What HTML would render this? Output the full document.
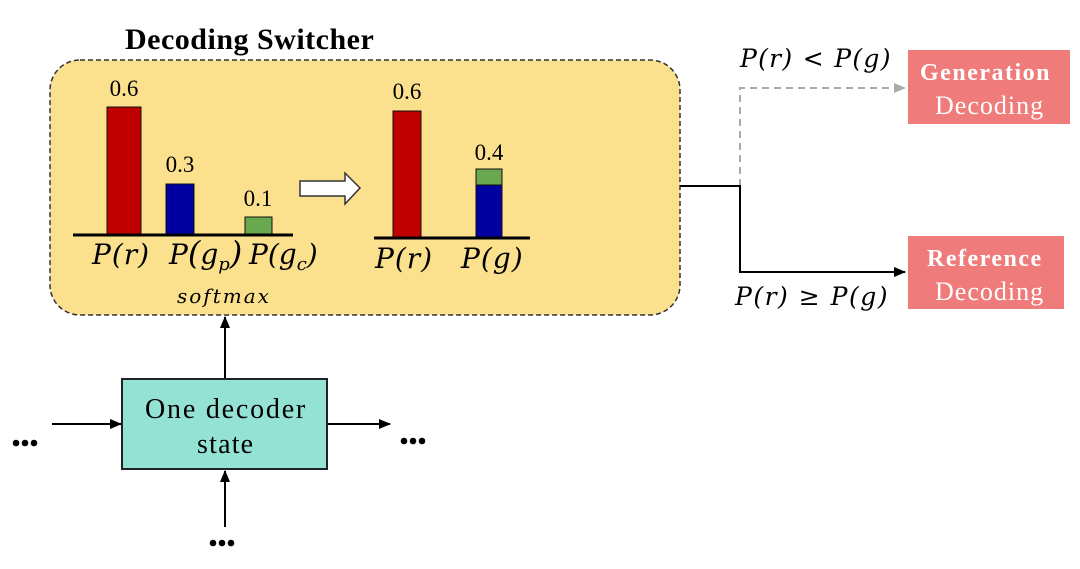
<!DOCTYPE html>
<html><head><meta charset="utf-8"><style>
body{margin:0;background:#fff;width:1080px;height:564px;overflow:hidden}
text{font-family:"Liberation Serif",serif}
.m{font-family:"DejaVu Serif","Liberation Serif",serif;font-style:italic}
</style></head><body>
<svg width="1080" height="564" viewBox="0 0 1080 564">
<defs>
<marker id="a" markerWidth="12" markerHeight="10" refX="11" refY="5" orient="auto" markerUnits="userSpaceOnUse"><path d="M0,0L12,5L0,10z" fill="#000"/></marker>
<marker id="g" markerWidth="12" markerHeight="10" refX="11" refY="5" orient="auto" markerUnits="userSpaceOnUse"><path d="M0,0L12,5L0,10z" fill="#aaa"/></marker>
</defs>
<text x="125" y="49" font-size="30" font-weight="bold" letter-spacing="0.5">Decoding Switcher</text>
<rect x="50" y="60" width="630" height="255" rx="30" fill="#fbe08e" stroke="#333" stroke-width="1.5" stroke-dasharray="5,3"/>
<rect x="107" y="107" width="34" height="128" fill="#c00000" stroke="#111"/>
<rect x="166" y="184" width="28" height="51" fill="#0000a0" stroke="#111"/>
<rect x="245" y="217" width="27" height="18" fill="#6aa84f" stroke="#111"/>
<line x1="73" y1="235" x2="293" y2="235" stroke="#000" stroke-width="3"/>
<text x="124" y="96" font-size="23" text-anchor="middle">0.6</text>
<text x="180" y="172" font-size="23" text-anchor="middle">0.3</text>
<text x="258" y="206" font-size="23" text-anchor="middle">0.1</text>
<text class="m" x="92" y="264" font-size="28" letter-spacing="1">P(r)</text>
<text class="m" x="169" y="264" font-size="28">P<tspan font-size="32">(</tspan>g<tspan font-size="18" dy="6">p</tspan><tspan dy="-6" font-size="32">)</tspan></text>
<text class="m" x="249" y="264" font-size="28">P(g<tspan font-size="18" dy="6">c</tspan><tspan dy="-6">)</tspan></text>
<text class="m" x="177" y="303" font-size="20" letter-spacing="2">softmax</text>
<path d="M300,181 H345 V173 L360,188 L345,204 V196 H300 Z" fill="#fff" stroke="#333" stroke-width="1.5"/>
<rect x="393" y="111" width="28" height="127" fill="#c00000" stroke="#111"/>
<rect x="476" y="185" width="26" height="53" fill="#0000a0" stroke="#111"/>
<rect x="476" y="169" width="26" height="16" fill="#6aa84f" stroke="#111"/>
<line x1="374" y1="238" x2="530" y2="238" stroke="#000" stroke-width="3"/>
<text x="407" y="99" font-size="23" text-anchor="middle">0.6</text>
<text x="489" y="160" font-size="23" text-anchor="middle">0.4</text>
<text class="m" x="375" y="268" font-size="28" letter-spacing="1">P(r)</text>
<text class="m" x="461" y="268" font-size="28" letter-spacing="1">P(g)</text>
<polyline points="740,186 740,88 905,88" fill="none" stroke="#aaa" stroke-width="2" stroke-dasharray="7,5" marker-end="url(#g)"/>
<polyline points="680,186 740,186 740,272 905,272" fill="none" stroke="#000" stroke-width="2" marker-end="url(#a)"/>
<text class="m" x="740" y="67" font-size="25" letter-spacing="1.3">P(r) &lt; P(g)</text>
<text class="m" x="735" y="305" font-size="25" letter-spacing="1.5">P(r) ≥ P(g)</text>
<rect x="908" y="50" width="162" height="74" fill="#f07b7b"/>
<text x="920" y="80" font-size="24" font-weight="bold" fill="#fff" letter-spacing="1.5">Generation</text>
<text x="935" y="114" font-size="26" fill="#fff" letter-spacing="1">Decoding</text>
<rect x="908" y="236" width="156" height="73" fill="#f07b7b"/>
<text x="927" y="266" font-size="24" font-weight="bold" fill="#fff" letter-spacing="1.5">Reference</text>
<text x="935" y="300" font-size="26" fill="#fff" letter-spacing="1">Decoding</text>
<rect x="122" y="379" width="205" height="90" fill="#93e2d4" stroke="#222" stroke-width="2"/>
<text x="145" y="418" font-size="28" letter-spacing="1.8">One decoder</text>
<text x="197" y="453" font-size="28" letter-spacing="1.2">state</text>
<line x1="225" y1="378" x2="225" y2="317" stroke="#000" stroke-width="2" marker-end="url(#a)"/>
<line x1="52" y1="424" x2="121" y2="424" stroke="#000" stroke-width="2" marker-end="url(#a)"/>
<line x1="328" y1="424" x2="390" y2="424" stroke="#000" stroke-width="2" marker-end="url(#a)"/>
<line x1="225" y1="527" x2="225" y2="471" stroke="#000" stroke-width="2" marker-end="url(#a)"/>
<g fill="#000"><circle cx="16" cy="443" r="3.3"/><circle cx="25" cy="443" r="3.3"/><circle cx="34" cy="443" r="3.3"/>
<circle cx="404" cy="441" r="3.3"/><circle cx="413" cy="441" r="3.3"/><circle cx="422" cy="441" r="3.3"/>
<circle cx="213" cy="543" r="3.3"/><circle cx="222" cy="543" r="3.3"/><circle cx="231" cy="543" r="3.3"/></g>
</svg>
</body></html>
